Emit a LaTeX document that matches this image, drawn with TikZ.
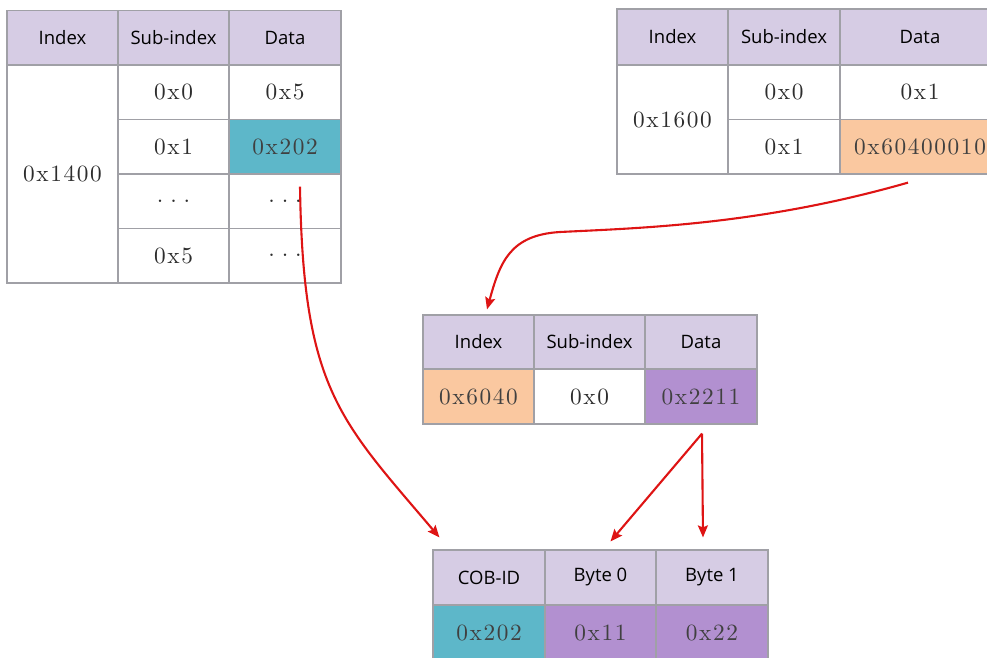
\documentclass[tikz,border=0pt]{standalone}
\usepackage{fontspec}
\usepackage{graphicx}
\usepackage{tikz}
\usetikzlibrary{positioning,arrows.meta,calc}

\newfontfamily\headfont{Open Sans}
\newfontfamily\valfam{lmroman10-regular}[Extension=.otf, LetterSpace=7]
\newcommand{\val}[1]{\scalebox{2.33}{\valfam\fontsize{10}{12}\selectfont #1}}
\newcommand{\gapdots}{\raisebox{-1pt}{.\hspace{3pt}.\hspace{3pt}.}}

\definecolor{headcol}{RGB}{214,204,228}
\definecolor{gridcol}{RGB}{160,160,166}
\definecolor{valcol}{RGB}{45,45,45}
\definecolor{cyancol}{RGB}{93,183,201}
\definecolor{orangecol}{RGB}{250,200,160}
\definecolor{purplecol}{RGB}{178,144,208}
\definecolor{linkred}{RGB}{222,20,20}

\begin{document}
\begin{tikzpicture}[
                x=1pt, y=-1pt,
                cell/.style={draw=gridcol, line width=1.2pt, minimum width=111pt, minimum height=54.5pt, inner sep=0pt, text=valcol},
                head/.style={cell, fill=headcol, text=black, font=\headfont\fontsize{18.5}{21}\selectfont},
                link/.style={draw=linkred, line width=2.1pt, -{Stealth[length=12pt, width=10pt, inset=2pt]}}
            ]
            \useasboundingbox (0,0) rectangle (987,657);
            \clip (0,0) rectangle (987,657);

            % table 0x1400
            \node[head] (Idx1400) at (62.5,37.5) {Index};
            \node[head] (Sub1400) at (173.5,37.5) {Sub-index};
            \node[head, minimum width=112pt] (Dat1400) at (285,37.5) {Data};
            \node[cell, minimum height=218pt] (Idx1400_v) at (62.5,174) {\val{0x1400}};
            \node[cell] (Sub1400_0) at (173.5,92.25) {\val{0x0}};
            \node[cell] (Sub1400_1) at (173.5,146.75) {\val{0x1}};
            \node[cell] (Sub1400_2) at (173.5,201.25) {\val{\gapdots}};
            \node[cell] (Sub1400_3) at (173.5,255.75) {\val{0x5}};
            \node[cell, minimum width=112pt] (Dat1400_0) at (285,92.25) {\val{0x5}};
            \node[cell, minimum width=112pt, fill=cyancol, text=black!75] (Dat1400_1) at (285,146.75) {\val{0x202}};
            \node[cell, minimum width=112pt] (Dat1400_2) at (285,201.25) {\val{\gapdots}};
            \node[cell, minimum width=112pt] (Dat1400_3) at (285,255.75) {\val{\gapdots}};

            % table 0x1600
            \node[head, minimum height=56pt] (Idx1600) at (672.5,37) {Index};
            \node[head, minimum height=56pt, minimum width=112pt] (Sub1600) at (784,37) {Sub-index};
            \node[head, minimum height=56pt, minimum width=160pt] (Dat1600) at (920,37) {Data};
            \node[cell, minimum height=109pt] (Idx1600_v) at (672.5,119.5) {\val{0x1600}};
            \node[cell, minimum width=112pt] (Sub1600_0) at (784,92.25) {\val{0x0}};
            \node[cell, minimum width=112pt] (Sub1600_1) at (784,146.75) {\val{0x1}};
            \node[cell, minimum width=160pt] (Dat1600_0) at (920,92.25) {\val{0x1}};
            \node[cell, minimum width=160pt, fill=orangecol, text=black!75] (Dat1600_1) at (920,146.75) {\val{0x60400010}};

            % table 0x6040
            \node[head, minimum height=54pt] (Idx6040) at (478.5,342) {Index};
            \node[head, minimum height=54pt] (Sub6040) at (589.5,342) {Sub-index};
            \node[head, minimum height=54pt, minimum width=112pt] (Dat6040) at (701,342) {Data};
            \node[cell, minimum height=55pt, fill=orangecol, text=black!75] (Idx6040_v) at (478.5,396.5) {\val{0x6040}};
            \node[cell, minimum height=55pt] (Sub6040_v) at (589.5,396.5) {\val{0x0}};
            \node[cell, minimum height=55pt, minimum width=112pt, fill=purplecol, text=black!75] (Dat6040_v) at (701,396.5) {\val{0x2211}};

            % frame
            \node[head, minimum height=55pt, minimum width=112pt] (CobId) at (489,577.5) {COB-ID};
            \node[head, minimum height=55pt] (Byte0) at (600.5,577.5) {Byte 0};
            \node[head, minimum height=55pt, minimum width=112pt] (Byte1) at (712,577.5) {Byte 1};
            \node[cell, minimum height=55pt, minimum width=112pt, fill=cyancol, text=black!75] (CobId_v) at (489,632.5) {\val{0x202}};
            \node[cell, minimum height=55pt, fill=purplecol, text=black!75] (Byte0_v) at (600.5,632.5) {\val{0x11}};
            \node[cell, minimum height=55pt, minimum width=112pt, fill=purplecol, text=black!75] (Byte1_v) at (712,632.5) {\val{0x22}};

            \draw[link] ($(Dat1400_1.south)+(15,12)$) .. controls (303,390) and (340,420) .. ($(CobId.north west)+(7,-12)$);
            \draw[link] ($(Dat1600_1.south)+(-12,8)$) .. controls (760,225) and (640,228) .. (560,232)
                        .. controls (510,235) and (500,262) .. ($(Idx6040.north)+(8.5,-5)$);
            \draw[link] ($(Dat6040_v.south)+(1,9)$) -- ($(Byte0.north)+(10,-8)$);
            \draw[link] ($(Dat6040_v.south)+(1,9)$) -- ($(Byte1.north)+(-9,-12)$);
        \end{tikzpicture}
\end{document}
